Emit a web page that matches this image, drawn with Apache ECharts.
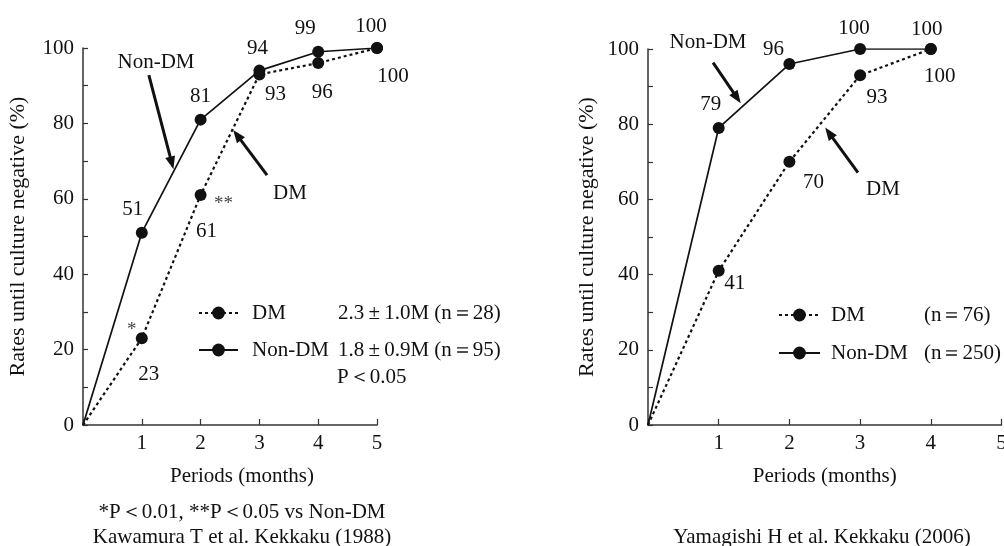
<!DOCTYPE html>
<html>
<head>
<meta charset="utf-8">
<script src="https://cdn.jsdelivr.net/npm/echarts@6/dist/echarts.min.js"></script>
<style>html,body{margin:0;padding:0;background:#fff}#c{width:1004px;height:546px}</style>
</head>
<body>
<div id="c"></div>
<script>
// ---- data ----
const kawamuraMonths = [0, 1, 2, 3, 4, 5];
const kawamuraNonDM = [0, 51, 81, 94, 99, 100];
const kawamuraDM = [0, 23, 61, 93, 96, 100];
const yamagishiMonths = [0, 1, 2, 3, 4];
const yamagishiNonDM = [0, 79, 96, 100, 100];
const yamagishiDM = [0, 41, 70, 93, 100];
const kawamuraStats = { 'DM': '2.3\u2009\u00b1\u20091.0M (n\uff1d28)', 'Non-DM': '1.8\u2009\u00b1\u20090.9M (n\uff1d95)' };
const yamagishiStats = { 'DM': '(n\uff1d76)', 'Non-DM': '(n\uff1d250)' };
const yTicks = [0, 20, 40, 60, 80, 100];
const xTicks = [1, 2, 3, 4, 5];

// ---- label placement (style) ----
const offKNon = [null, [-9, -23], [0, -23], [-2, -22], [-13, -23], [-6, -22]];
const offKDM = [null, [7, 36], [6, 36], [16, 20], [4, 29], [16, 28]];
const offYNon = [null, [-8, -23], [-16, -15], [-6, -21], [-4, -20]];
const offYDM = [null, [16, 13], [24, 21], [17, 22], [9, 27]];

const FONT = "'Liberation Serif','Times New Roman',serif";
const INK = '#111';
const FS = 21;

function pts(xs, ys, offs) {
  return xs.map((x, i) => {
    if (i === 0) return { value: [x, ys[i]], symbol: 'none', label: { show: false } };
    return { value: [x, ys[i]], label: { offset: offs[i] } };
  });
}

function lineSeries(name, idx, xs, ys, offs, dotted, extra) {
  return Object.assign({
    name: name, type: 'line', xAxisIndex: idx, yAxisIndex: idx,
    data: pts(xs, ys, offs),
    symbol: 'circle', symbolSize: 12,
    itemStyle: { color: INK },
    lineStyle: dotted ? { color: INK, width: 2.2, type: [3, 3] } : { color: INK, width: 1.7, type: 'solid' },
    label: { show: true, position: 'inside', color: INK, fontFamily: FONT, fontSize: FS,
      formatter: p => String(p.value[1]) },
    z: dotted ? 3 : 4,
    animation: false
  }, extra || {});
}

function arrow(from, to) {
  return {
    silent: true, animation: false,
    symbol: ['none', 'triangle'], symbolSize: [10, 13],
    lineStyle: { color: INK, width: 3, type: 'solid' },
    label: { show: false },
    emphasis: { disabled: true },
    data: [[{ coord: from }, { coord: to }]]
  };
}

function yAxis(idx) {
  return {
    type: 'value', gridIndex: idx, min: 0, max: 100, interval: 10,
    axisLine: { show: true, lineStyle: { color: '#333', width: 1.5 } },
    axisTick: { show: true, inside: true, length: 5, lineStyle: { color: '#333', width: 1.2 } },
    axisLabel: { color: INK, fontFamily: FONT, fontSize: FS, margin: 9,
      formatter: v => yTicks.indexOf(v) >= 0 ? String(v) : '' },
    splitLine: { show: false },
    name: 'Rates until culture negative (%)', nameLocation: 'middle', nameGap: idx === 0 ? 54 : 50,
    nameTextStyle: { color: INK, fontFamily: FONT, fontSize: 22 }
  };
}
function xAxis(idx) {
  return {
    type: 'value', gridIndex: idx, min: 0, max: 5, interval: 1,
    axisLine: { show: true, onZero: false, lineStyle: { color: '#333', width: 1.5 } },
    axisTick: { show: true, inside: true, length: 6, lineStyle: { color: '#333', width: 1.2 } },
    axisLabel: { color: INK, fontFamily: FONT, fontSize: FS, margin: 8,
      formatter: v => xTicks.indexOf(v) >= 0 ? String(v) : '' },
    splitLine: { show: false },
    name: 'Periods (months)', nameLocation: 'middle', nameGap: 41,
    nameTextStyle: { color: INK, fontFamily: FONT, fontSize: FS, padding: idx === 0 ? [0, 0, 0, 24] : [0, 0, 0, 0] }
  };
}

function legend(left, top, itemW, gap, pad, colW, stats) {
  return {
    data: ['DM', 'Non-DM'], orient: 'vertical', left: left, top: top, padding: 0,
    itemWidth: itemW, itemHeight: 16, itemGap: gap, selectedMode: false,
    formatter: n => '{p|}{a|' + n + '}{b|' + stats[n] + '}',
    textStyle: { color: INK, fontFamily: FONT, fontSize: FS, lineHeight: 22,
      rich: { p: { width: pad }, a: { width: colW, fontFamily: FONT, fontSize: FS, color: INK },
        b: { fontFamily: FONT, fontSize: FS, color: INK } } }
  };
}

function txt(x, y, s, size, align) {
  return { type: 'text', x: x, y: y, silent: true,
    style: { text: s, fill: INK, font: (size || FS) + 'px ' + FONT, align: align || 'center', verticalAlign: 'middle' } };
}

const option = {
  backgroundColor: '#fff',
  animation: false,
  grid: [
    { left: 83, top: 48, width: 294, height: 377, outerBoundsMode: 'none', containLabel: false },
    { left: 648, top: 49, width: 353.5, height: 376, outerBoundsMode: 'none', containLabel: false }
  ],
  xAxis: [xAxis(0), xAxis(1)],
  yAxis: [yAxis(0), yAxis(1)],
  legend: [
    legend(198, 302, 39, 15, 9, 86, kawamuraStats),
    legend(778, 304, 41, 16, 6, 93, yamagishiStats)
  ],
  series: [
    lineSeries('DM', 0, kawamuraMonths, kawamuraDM, offKDM, true, {
      markLine: arrow([3.13, 66.3], [2.62, 76.9]),
      markPoint: { silent: true, animation: false, symbol: 'circle', symbolSize: 0,
        label: { show: true, position: 'inside', color: '#444', fontFamily: FONT, fontSize: 19 },
        data: [
          { coord: [2, 61], label: { formatter: '**', offset: [23, 9] } },
          { coord: [1, 23], label: { formatter: '*', offset: [-10, -8] } }
        ] }
    }),
    lineSeries('Non-DM', 0, kawamuraMonths, kawamuraNonDM, offKNon, false, {
      markLine: arrow([1.12, 92.8], [1.51, 69.5])
    }),
    lineSeries('DM', 1, yamagishiMonths, yamagishiDM, offYDM, true, {
      markLine: arrow([2.97, 67.1], [2.56, 77.7])
    }),
    lineSeries('Non-DM', 1, yamagishiMonths, yamagishiNonDM, offYNon, false, {
      markLine: arrow([0.92, 96.4], [1.26, 87.0])
    })
  ],
  graphic: [
    txt(156, 62, 'Non-DM'),
    txt(290, 193, 'DM'),
    txt(708, 42, 'Non-DM'),
    txt(883, 189, 'DM'),
    txt(337, 377, 'P\uff1c0.05', FS, 'left'),
    txt(242, 512, '*P\uff1c0.01, **P\uff1c0.05 vs Non-DM'),
    txt(242, 537, 'Kawamura T et al. Kekkaku (1988)'),
    txt(822, 537, 'Yamagishi H et al. Kekkaku (2006)')
  ]
};

const chart = echarts.init(document.getElementById('c'), null, { renderer: 'canvas' });
chart.setOption(option);
</script>
</body>
</html>
